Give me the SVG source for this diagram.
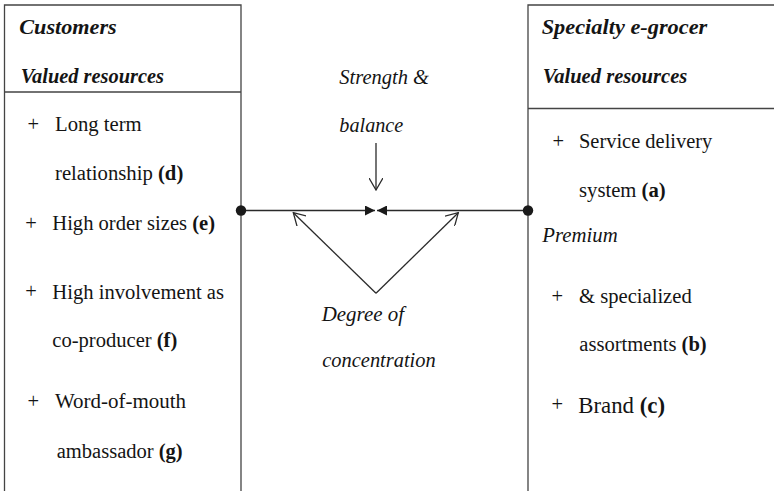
<svg xmlns="http://www.w3.org/2000/svg" width="774" height="493" viewBox="0 0 774 493">
  <style>
    text { font-family: "Liberation Serif", "Times New Roman", serif; fill: #141414; }
    .head { font-size: 21px; font-weight: bold; font-style: italic; }
    .item { font-size: 20.5px; }
    .big { font-size: 23px; }
    .ital { font-size: 20px; font-style: italic; }
    .b { font-weight: bold; }
    .frame { fill: none; stroke: #444; stroke-width: 1.3; }
    .link { fill: none; stroke: #2a2a2a; stroke-width: 1.3; }
    .dot { fill: #1a1a1a; }
  </style>
  <defs>
    <marker id="open" viewBox="0 0 13 14" refX="12" refY="7" markerWidth="13" markerHeight="14" markerUnits="userSpaceOnUse" orient="auto">
      <path d="M0,0 L12,7 L0,14" fill="none" stroke="#2a2a2a" stroke-width="1.3"/>
    </marker>
    <marker id="solid" viewBox="0 0 10 10" refX="10" refY="5" markerWidth="10" markerHeight="10" markerUnits="userSpaceOnUse" orient="auto">
      <path d="M0,0 L10,5 L0,10 Z" fill="#1a1a1a"/>
    </marker>
  </defs>

  <!-- Customer side -->
  <g id="customers">
    <path class="frame" d="M4.5,491 V5 H241 V491 M4.5,92 H241"/>
    <text class="head" x="19.3" y="34" textLength="97.4" lengthAdjust="spacingAndGlyphs">Customers</text>
    <text class="head" x="20.7" y="83" textLength="143.3" lengthAdjust="spacingAndGlyphs">Valued resources</text>
    <text class="item" x="27.5" y="131">+</text>
    <text class="item" x="55" y="131" textLength="86.7" lengthAdjust="spacingAndGlyphs">Long term</text>
    <text class="item" x="55" y="180" textLength="128.3" lengthAdjust="spacingAndGlyphs">relationship <tspan class="b">(d)</tspan></text>
    <text class="item" x="25.2" y="230">+</text>
    <text class="item" x="52.3" y="230" textLength="162.7" lengthAdjust="spacingAndGlyphs">High order sizes <tspan class="b">(e)</tspan></text>
    <text class="item" x="25.2" y="298">+</text>
    <text class="item" x="52.3" y="299.3" textLength="171.7" lengthAdjust="spacingAndGlyphs">High involvement as</text>
    <text class="item" x="52.3" y="346.7" textLength="125" lengthAdjust="spacingAndGlyphs">co-producer <tspan class="b">(f)</tspan></text>
    <text class="item" x="27.5" y="408.3">+</text>
    <text class="item" x="55" y="408.3" textLength="131" lengthAdjust="spacingAndGlyphs">Word-of-mouth</text>
    <text class="item" x="56.7" y="458.3" textLength="126" lengthAdjust="spacingAndGlyphs">ambassador <tspan class="b">(g)</tspan></text>
  </g>

  <!-- E-grocer side -->
  <g id="egrocer">
    <path class="frame" d="M528,491 V5 H774 M528,108.5 H774"/>
    <text class="head" x="541.7" y="34" textLength="165.6" lengthAdjust="spacingAndGlyphs">Specialty e-grocer</text>
    <text class="head" x="542.7" y="83" textLength="144.6" lengthAdjust="spacingAndGlyphs">Valued resources</text>
    <text class="item" x="552.5" y="148.3">+</text>
    <text class="item" x="579" y="148.3" textLength="133.3" lengthAdjust="spacingAndGlyphs">Service delivery</text>
    <text class="item" x="579" y="196.7" textLength="86.7" lengthAdjust="spacingAndGlyphs">system <tspan class="b">(a)</tspan></text>
    <text class="ital" x="542.3" y="242.3" textLength="75.4" lengthAdjust="spacingAndGlyphs">Premium</text>
    <text class="item" x="551.5" y="303.3">+</text>
    <text class="item" x="579" y="303.3" textLength="112.7" lengthAdjust="spacingAndGlyphs">&amp; specialized</text>
    <text class="item" x="579.3" y="351" textLength="127.4" lengthAdjust="spacingAndGlyphs">assortments <tspan class="b">(b)</tspan></text>
    <text class="item" x="551.5" y="410.7">+</text>
    <text class="big" x="578.3" y="412.7" textLength="86.7" lengthAdjust="spacingAndGlyphs">Brand <tspan class="b">(c)</tspan></text>
  </g>

  <!-- Labels of the middle relation -->
  <g id="strength-balance">
    <text class="ital" x="339.3" y="84" textLength="89.7" lengthAdjust="spacingAndGlyphs">Strength &amp;</text>
    <text class="ital" x="339.3" y="131.7" textLength="64" lengthAdjust="spacingAndGlyphs">balance</text>
  </g>
  <g id="degree-concentration">
    <text class="ital" x="321.7" y="320.7" textLength="82.3" lengthAdjust="spacingAndGlyphs">Degree of</text>
    <text class="ital" x="322.3" y="367.3" textLength="113.4" lengthAdjust="spacingAndGlyphs">concentration</text>
  </g>

  <!-- Connectors -->
  <g id="connectors">
    <line class="link" x1="241" y1="210.5" x2="375" y2="210.5" marker-end="url(#solid)"/>
    <line class="link" x1="528" y1="210.5" x2="377" y2="210.5" marker-end="url(#solid)"/>
    <circle class="dot" cx="241" cy="210.5" r="5.2"/>
    <circle class="dot" cx="528" cy="210.5" r="5.2"/>
    <line class="link" x1="376" y1="143" x2="376" y2="190" marker-end="url(#open)"/>
    <line class="link" x1="376" y1="293.3" x2="293.3" y2="212.7" marker-end="url(#open)"/>
    <line class="link" x1="376" y1="293.3" x2="458.3" y2="212.7" marker-end="url(#open)"/>
  </g>
</svg>
